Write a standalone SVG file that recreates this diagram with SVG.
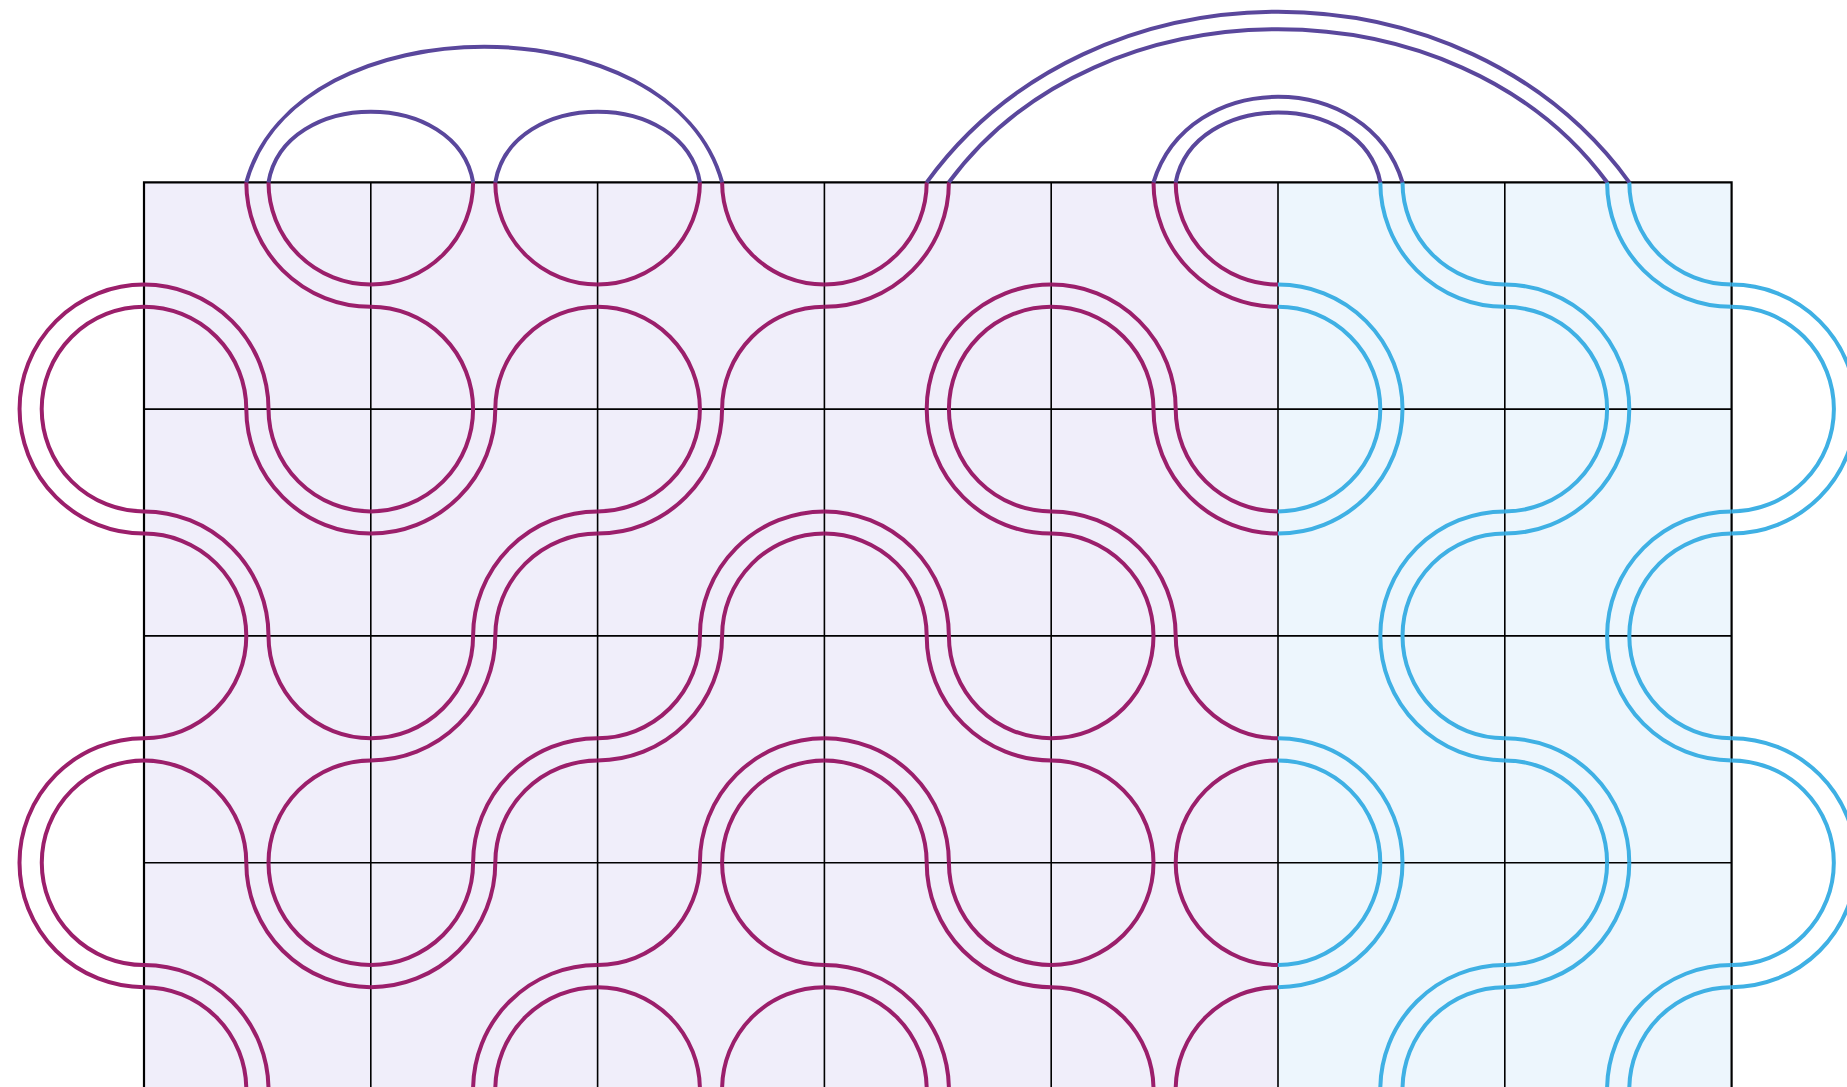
<svg xmlns="http://www.w3.org/2000/svg" xmlns:xlink="http://www.w3.org/1999/xlink" width="1847" height="1087" viewBox="0 0 1847 1087">
<style>
.s{fill:none;stroke-width:4}
.mag{stroke:#9b1f6b}
.blu{stroke:#3fb0e4}
.pur{stroke:#5a479c}
.grid{stroke:#000;stroke-width:1.6;fill:none}
.edge{stroke:#000;stroke-width:2.2;fill:none}
</style>
<defs>
<g id="tA"><path class="s" d="M102.3,0A102.3,102.3 0 0 1 0,102.3M124.5,0A124.5,124.5 0 0 1 0,124.5M226.8,124.5A102.3,102.3 0 0 0 124.5,226.8M226.8,102.3A124.5,124.5 0 0 0 102.3,226.8"/></g>
<g id="tB"><path class="s" d="M124.5,0A102.3,102.3 0 0 0 226.8,102.3M102.3,0A124.5,124.5 0 0 0 226.8,124.5M0,124.5A102.3,102.3 0 0 1 102.3,226.8M0,102.3A124.5,124.5 0 0 1 124.5,226.8"/></g>
<g id="tC"><path class="s" d="M102.3,0A102.3,102.3 0 0 1 0,102.3M124.5,0A102.3,102.3 0 0 0 226.8,102.3M0,124.5A102.3,102.3 0 0 1 102.3,226.8M226.8,124.5A102.3,102.3 0 0 0 124.5,226.8"/></g>
</defs>
<g id="background">
<rect x="144" y="182.3" width="1134" height="907.2" fill="#f0eefa"/>
<rect x="1278" y="182.3" width="453.6" height="907.2" fill="#edf6fd"/>
</g>
<g id="grid">
<path class="grid" d="M370.8,182.3V1089.5M597.6,182.3V1089.5M824.4,182.3V1089.5M1051.2,182.3V1089.5M1278,182.3V1089.5M1504.8,182.3V1089.5M144,409.1H1731.6M144,635.9H1731.6M144,862.7H1731.6"/>
<path class="edge" d="M144,1089.5V182.3H1731.6V1089.5"/>
</g>
<g id="tiles">
<use id="c00" href="#tB" x="144" y="182.3" class="mag"/>
<use id="c10" href="#tC" x="370.8" y="182.3" class="mag"/>
<use id="c20" href="#tC" x="597.6" y="182.3" class="mag"/>
<use id="c30" href="#tA" x="824.4" y="182.3" class="mag"/>
<use id="c40" href="#tB" x="1051.2" y="182.3" class="mag"/>
<use id="c50" href="#tB" x="1278" y="182.3" class="blu"/>
<use id="c60" href="#tB" x="1504.8" y="182.3" class="blu"/>
<use id="c01" href="#tB" x="144" y="409.1" class="mag"/>
<use id="c11" href="#tA" x="370.8" y="409.1" class="mag"/>
<use id="c21" href="#tA" x="597.6" y="409.1" class="mag"/>
<use id="c31" href="#tB" x="824.4" y="409.1" class="mag"/>
<use id="c41" href="#tB" x="1051.2" y="409.1" class="mag"/>
<use id="c51" href="#tA" x="1278" y="409.1" class="blu"/>
<use id="c61" href="#tA" x="1504.8" y="409.1" class="blu"/>
<use id="c02" href="#tC" x="144" y="635.9" class="mag"/>
<use id="c12" href="#tA" x="370.8" y="635.9" class="mag"/>
<use id="c22" href="#tA" x="597.6" y="635.9" class="mag"/>
<use id="c32" href="#tB" x="824.4" y="635.9" class="mag"/>
<use id="c42" href="#tC" x="1051.2" y="635.9" class="mag"/>
<use id="c52" href="#tB" x="1278" y="635.9" class="blu"/>
<use id="c62" href="#tB" x="1504.8" y="635.9" class="blu"/>
<use id="c03" href="#tB" x="144" y="862.7" class="mag"/>
<use id="c13" href="#tA" x="370.8" y="862.7" class="mag"/>
<use id="c23" href="#tC" x="597.6" y="862.7" class="mag"/>
<use id="c33" href="#tB" x="824.4" y="862.7" class="mag"/>
<use id="c43" href="#tC" x="1051.2" y="862.7" class="mag"/>
<use id="c53" href="#tA" x="1278" y="862.7" class="blu"/>
<use id="c63" href="#tA" x="1504.8" y="862.7" class="blu"/>
</g>
<g id="loops">
<path class="s mag" d="M144,284.6A124.5,124.5 0 0 0 144,533.6M144,306.8A102.3,102.3 0 0 0 144,511.4M144,738.2A124.5,124.5 0 0 0 144,987.2M144,760.4A102.3,102.3 0 0 0 144,965"/>
<path class="s blu" d="M1731.6,284.6A124.5,124.5 0 0 1 1731.6,533.6M1731.6,306.8A102.3,102.3 0 0 1 1731.6,511.4M1731.6,738.2A124.5,124.5 0 0 1 1731.6,987.2M1731.6,760.4A102.3,102.3 0 0 1 1731.6,965"/>
</g>
<g id="arches">
<path class="s pur" d="M268.5,182.3C284.5,88.3 457.1,88.3 473.1,182.3"/>
<path class="s pur" d="M495.3,182.3C511.3,88.3 683.9,88.3 699.9,182.3"/>
<path class="s pur" d="M246.3,182.3C296.3,1.5 672.1,1.5 722.1,182.3"/>
<path class="s pur" d="M926.7,182.3C1091.7,-45.2 1464.3,-45.2 1629.3,182.3"/>
<path class="s pur" d="M948.9,182.3C1098.9,-21.7 1457.1,-21.7 1607.1,182.3"/>
<path class="s pur" d="M1153.5,182.3C1188.5,68.3 1367.5,68.3 1402.5,182.3"/>
<path class="s pur" d="M1175.7,182.3C1193.7,89.3 1362.3,89.3 1380.3,182.3"/>
</g>
</svg>
